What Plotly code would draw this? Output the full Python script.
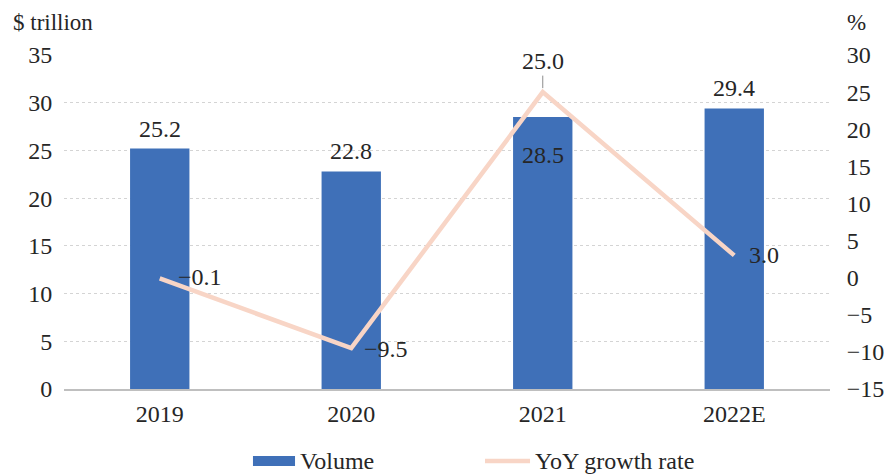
import plotly.graph_objects as go

years = ["2019", "2020", "2021", "2022E"]
volume = [25.2, 22.8, 28.5, 29.4]
growth = [-0.1, -9.5, 25.0, 3.0]
volume_labels = ["25.2", "22.8", "28.5", "29.4"]
growth_labels = ["\u22120.1", "\u22129.5", "25.0", "3.0"]

FONT = "Liberation Serif"
TXT = "#262626"
BAR = "#3F70B8"
LINE = "#F8D5C6"
FS = 24

fig = go.Figure()
fig.add_trace(go.Bar(
    x=years, y=volume, name="Volume", marker=dict(color=BAR, line=dict(width=0)),
    width=0.31, showlegend=False,
))
fig.add_trace(go.Scatter(
    x=years, y=growth, name="YoY growth rate", yaxis="y2", mode="lines",
    line=dict(color=LINE, width=4.5), showlegend=False,
))

# bar value labels (x given as category index because the names look numeric)
bar_lab_pos = [("bottom", 5), ("bottom", 5), ("top", -23), ("bottom", 5)]
for i, (v, lab, (anc, ys)) in enumerate(zip(volume, volume_labels, bar_lab_pos)):
    fig.add_annotation(x=i, y=v, xref="x", yref="y", text=lab, showarrow=False,
                       xanchor="center", yanchor=anc, yshift=ys,
                       font=dict(family=FONT, size=FS, color=TXT))

# growth labels
line_lab_pos = [(16, 1, False), (11, -1, False), (0, 0, True), (13, 0, False)]
for i, (g, lab, (xs, ys, arr)) in enumerate(zip(growth, growth_labels, line_lab_pos)):
    fig.add_annotation(
        x=i, y=g, xref="x", yref="y2", text=lab, showarrow=arr,
        xanchor="center" if arr else "left",
        xshift=xs, yshift=ys,
        ax=0, ay=-31, arrowhead=0, arrowwidth=1, arrowcolor="#8C8C8C", standoff=4,
        font=dict(family=FONT, size=FS, color=TXT),
    )

# axis unit titles
fig.add_annotation(x=0, y=1, xref="paper", yref="paper", xshift=-53, yshift=33,
                   text="$ trillion", showarrow=False, xanchor="left", yanchor="middle",
                   font=dict(family=FONT, size=FS - 1, color=TXT))
fig.add_annotation(x=1, y=1, xref="paper", yref="paper", xshift=15, yshift=33,
                   text="%", showarrow=False, xanchor="left", yanchor="middle",
                   font=dict(family=FONT, size=FS - 1, color=TXT))

# manual legend
fig.add_shape(type="rect", xref="paper", yref="paper", x0=0.2467, x1=0.3016,
              y0=-0.2305, y1=-0.2006, fillcolor=BAR, line=dict(width=0))
fig.add_annotation(x=0.3055, y=-0.2156, xref="paper", yref="paper", text="Volume",
                   showarrow=False, xanchor="left", yanchor="middle",
                   font=dict(family=FONT, size=FS, color=TXT))
fig.add_shape(type="line", xref="paper", yref="paper", x0=0.5496, x1=0.6084,
              y0=-0.2156, y1=-0.2156, line=dict(color=LINE, width=4.5))
fig.add_annotation(x=0.6120, y=-0.2156, xref="paper", yref="paper", text="YoY growth rate",
                   showarrow=False, xanchor="left", yanchor="middle",
                   font=dict(family=FONT, size=FS, color=TXT))

fig.update_layout(
    width=887, height=474,
    margin=dict(l=64, r=57, t=55, b=85, autoexpand=False),
    paper_bgcolor="white", plot_bgcolor="white",
    font=dict(family=FONT, size=FS, color=TXT),
    showlegend=False,
    xaxis=dict(type="category", categoryorder="array", categoryarray=years,
               range=[-0.5, 3.5], showline=True, linecolor="#BFBFBF", linewidth=2,
               ticks="outside", ticklen=2, tickcolor="rgba(0,0,0,0)", showgrid=False,
               automargin=False, tickfont=dict(family=FONT, size=FS, color=TXT)),
    yaxis=dict(range=[0, 35], dtick=5, showgrid=True, gridcolor="#D4D4D4",
               griddash="dot", gridwidth=1, zeroline=False, ticks="outside",
               ticklen=6, tickcolor="rgba(0,0,0,0)", automargin=False,
               tickfont=dict(family=FONT, size=FS, color=TXT)),
    yaxis2=dict(range=[-15, 30], dtick=5, overlaying="y", side="right",
                showgrid=False, zeroline=False, ticks="outside", ticklen=11,
                tickcolor="rgba(0,0,0,0)", automargin=False,
                tickfont=dict(family=FONT, size=FS, color=TXT)),
)

fig.write_html("out.html")
